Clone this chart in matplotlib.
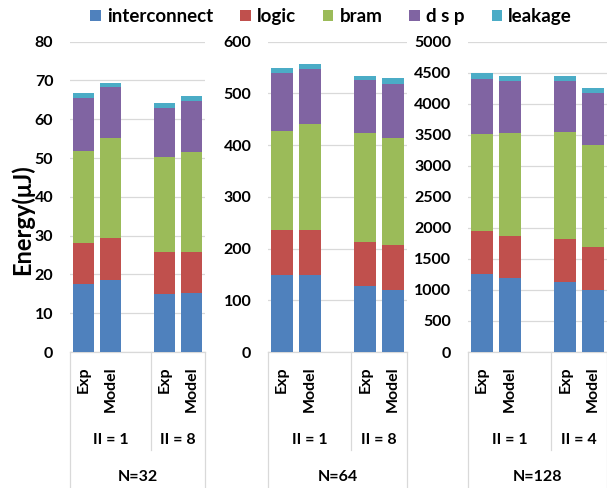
import matplotlib
matplotlib.use('Agg')
import matplotlib.pyplot as plt
from matplotlib.patches import Patch
import matplotlib.transforms as mtransforms

plt.rcParams['font.family'] = ['Lato', 'DejaVu Sans']
plt.rcParams['font.weight'] = 'bold'

components = ['interconnect', 'logic', 'bram', 'd s p', 'leakage']
colors = ['#4F81BD', '#C0504D', '#9BBB59', '#8064A2', '#4BACC6']
bar_labels = ['Exp', 'Model', 'Exp', 'Model']
panel_titles = ['N=32', 'N=64', 'N=128']
group_labels = [['II = 1', 'II = 8'], ['II = 1', 'II = 8'], ['II = 1', 'II = 4']]

# N=32 (uJ), bars: Exp II=1, Model II=1, Exp II=8, Model II=8
n32_interconnect = [17.6, 18.6, 15.0, 15.2]
n32_logic = [10.5, 10.7, 10.9, 10.6]
n32_bram = [23.7, 25.8, 24.4, 25.8]
n32_dsp = [13.6, 13.1, 12.7, 13.1]
n32_leakage = [1.4, 1.2, 1.2, 1.2]

# N=64
n64_interconnect = [148, 148, 127, 120]
n64_logic = [87, 87, 85, 87]
n64_bram = [192, 206, 211, 207]
n64_dsp = [112, 106, 102, 105]
n64_leakage = [10, 9, 9, 10]

# N=128, bars: Exp II=1, Model II=1, Exp II=4, Model II=4
n128_interconnect = [1250, 1196, 1132, 992]
n128_logic = [692, 676, 692, 693]
n128_bram = [1572, 1663, 1722, 1652]
n128_dsp = [891, 832, 821, 837]
n128_leakage = [96, 86, 75, 80]

y_limits = [80, 600, 5000]
y_steps = [10, 100, 500]

panels = [
    [n32_interconnect, n32_logic, n32_bram, n32_dsp, n32_leakage],
    [n64_interconnect, n64_logic, n64_bram, n64_dsp, n64_leakage],
    [n128_interconnect, n128_logic, n128_bram, n128_dsp, n128_leakage],
]

W, H = 607, 488
fig = plt.figure(figsize=(W / 100, H / 100), dpi=100)

lefts = [70, 268, 468]
widths = [135, 139, 139]
zero_px = 352
top_px = 41.7
positions = [0, 1, 3, 4]
grid_c = '#D9D9D9'

def fy(p):
    return (H - p) / H

for i, series in enumerate(panels):
    ax = fig.add_axes([lefts[i] / W, fy(zero_px), widths[i] / W, (zero_px - top_px) / H])
    bottoms = [0.0] * 4
    for comp, vals, col in zip(components, series, colors):
        ax.bar(positions, vals, width=0.78, bottom=bottoms, color=col, zorder=3, linewidth=0)
        bottoms = [b + v for b, v in zip(bottoms, vals)]
    ax.set_xlim(-0.5, 4.5)
    ax.set_ylim(0, y_limits[i])
    ticks = list(range(0, y_limits[i] + 1, y_steps[i]))
    ax.set_yticks(ticks)
    ax.set_yticklabels([str(t) for t in ticks], fontsize=11.5, fontweight='bold')
    ax.tick_params(axis='y', length=0, pad=12)
    ax.set_xticks([])
    ax.yaxis.grid(True, color=grid_c, linewidth=0.9, zorder=0)
    for s in ['left', 'right', 'top']:
        ax.spines[s].set_visible(False)
    ax.spines['bottom'].set_color(grid_c)
    ax.spines['bottom'].set_linewidth(0.9)

    tr = mtransforms.blended_transform_factory(ax.transData, fig.transFigure)
    for xv in [-0.5, 4.5]:
        ax.plot([xv, xv], [fy(352), 0], color=grid_c, lw=0.9, transform=tr, clip_on=False)
    ax.plot([2.5, 2.5], [fy(352), fy(450)], color=grid_c, lw=0.9, transform=tr, clip_on=False)
    for xp, lab in zip(positions, bar_labels):
        ax.text(xp, fy(366), lab, rotation=90, ha='center', va='top', fontsize=11.5,
                fontweight='bold', transform=tr)
    ax.text(1.0, fy(440), group_labels[i][0], ha='center', va='center', fontsize=11.5,
            fontweight='bold', transform=tr)
    ax.text(3.5, fy(440), group_labels[i][1], ha='center', va='center', fontsize=11.5,
            fontweight='bold', transform=tr)
    ax.text(2.0, fy(477), panel_titles[i], ha='center', va='center', fontsize=11.5,
            fontweight='bold', transform=tr)

fig.text(22 / W, fy(220), 'Energy(μJ)', rotation=90, ha='center', va='center',
         fontsize=17, fontweight='bold')

handles = [Patch(facecolor=c, edgecolor='none') for c in colors]
fig.legend(handles, components, loc='center', bbox_to_anchor=(331 / W, fy(16.5)),
           ncol=5, frameon=False, handlelength=0.57, handleheight=0.57,
           handletextpad=0.32, columnspacing=1.44, borderpad=0,
           prop={'size': 13.5, 'weight': 'bold'})

fig.savefig('out.png', dpi=100)
